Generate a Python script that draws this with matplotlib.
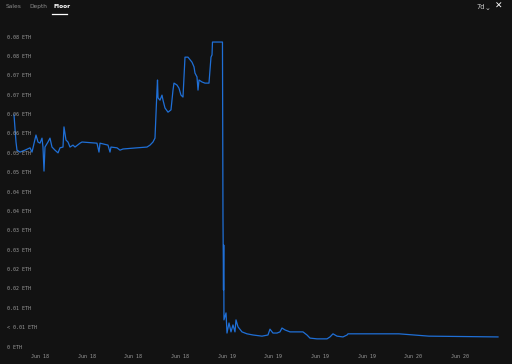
import matplotlib
matplotlib.use("Agg")
import matplotlib.pyplot as plt
import matplotlib.transforms as mtransforms

# floor price, x in tick units (0 = first "Jun 18" label), y in ETH
time = [-0.557, -0.514, -0.493, -0.429, -0.321, -0.214, -0.171, -0.086, -0.043, 0.0,
        0.043, 0.064, 0.086, 0.107, 0.171, 0.214, 0.257, 0.321, 0.386, 0.429,
        0.493, 0.514, 0.557, 0.600, 0.643, 0.707, 0.750, 0.857, 0.900, 1.221,
        1.264, 1.286, 1.457, 1.500, 1.521, 1.650, 1.714, 1.778, 2.078, 2.293,
        2.357, 2.421, 2.464, 2.507, 2.518, 2.529, 2.571, 2.614, 2.636, 2.678,
        2.743, 2.807, 2.850, 2.871, 2.936, 2.978, 3.021, 3.064, 3.107, 3.171,
        3.257, 3.300, 3.321, 3.364, 3.386, 3.407, 3.471, 3.535, 3.621, 3.664,
        3.686, 3.696, 3.910, 3.921, 3.932, 3.937, 3.942, 3.986, 4.007, 4.050,
        4.093, 4.135, 4.178, 4.200, 4.243, 4.328, 4.435, 4.564, 4.757, 4.885,
        4.928, 4.992, 5.078, 5.142, 5.185, 5.250, 5.357, 5.507, 5.635, 5.721,
        5.785, 5.935, 6.150, 6.214, 6.278, 6.364, 6.492, 6.579, 6.600, 7.692,
        8.335, 9.814]
floor = [0.0599, 0.0529, 0.0508, 0.0503, 0.0508, 0.0514, 0.0503, 0.0547, 0.0529, 0.0526,
         0.0539, 0.0516, 0.0454, 0.0516, 0.0529, 0.0539, 0.0516, 0.0508, 0.0501, 0.0514,
         0.0516, 0.0568, 0.0534, 0.0529, 0.0516, 0.0521, 0.0516, 0.0526, 0.0529, 0.0526,
         0.0503, 0.0526, 0.0521, 0.0503, 0.0516, 0.0514, 0.0508, 0.0511, 0.0514, 0.0516,
         0.0521, 0.0529, 0.0539, 0.0663, 0.0689, 0.0643, 0.0637, 0.0650, 0.0637, 0.0617,
         0.0606, 0.0612, 0.0663, 0.0681, 0.0676, 0.0668, 0.0650, 0.0645, 0.0748, 0.0748,
         0.0735, 0.0723, 0.0707, 0.0697, 0.0663, 0.0689, 0.0684, 0.0681, 0.0681, 0.0748,
         0.0754, 0.0787, 0.0787, 0.0333, 0.0147, 0.0263, 0.0070, 0.0088, 0.0036, 0.0062,
         0.0039, 0.0057, 0.0039, 0.0070, 0.0052, 0.0039, 0.0034, 0.0031, 0.0028, 0.0031,
         0.0046, 0.0036, 0.0036, 0.0039, 0.0049, 0.0044, 0.0039, 0.0039, 0.0039, 0.0031,
         0.0023, 0.0021, 0.0021, 0.0026, 0.0034, 0.0028, 0.0026, 0.0031, 0.0034, 0.0034,
         0.0028, 0.0026]

y_ticks = [0.0, 0.005, 0.01, 0.015, 0.02, 0.025, 0.03, 0.035, 0.04,
           0.045, 0.05, 0.055, 0.06, 0.065, 0.07, 0.075, 0.08]
y_labels = ["0 ETH", "< 0.01 ETH", "0.01 ETH", "0.02 ETH", "0.02 ETH", "0.03 ETH",
            "0.03 ETH", "0.04 ETH", "0.04 ETH", "0.05 ETH", "0.05 ETH", "0.06 ETH",
            "0.06 ETH", "0.07 ETH", "0.07 ETH", "0.08 ETH", "0.08 ETH"]
x_ticks = [0, 1, 2, 3, 4, 5, 6, 7, 8, 9]
x_labels = ["Jun 18", "Jun 18", "Jun 18", "Jun 18", "Jun 19",
            "Jun 19", "Jun 19", "Jun 19", "Jun 20", "Jun 20"]
tabs = ["Sales", "Depth", "Floor"]

bg = "#121212"
fig = plt.figure(figsize=(5.12, 3.64), dpi=100, facecolor=bg)
ax = fig.add_axes([0, 0, 1, 1])
ax.set_facecolor(bg)
ax.set_xlim(-0.857, 10.114)
ax.set_ylim(-0.004387, 0.08955)
ax.axis("off")

ax.plot(time, floor, color="#1f6fd6", lw=0.9, solid_joinstyle="round")

ytr = mtransforms.blended_transform_factory(ax.transAxes, ax.transData)
for v, lab in zip(y_ticks, y_labels):
    ax.text(7 / 512, v, lab, transform=ytr, color="#9a9a9a", fontsize=3.6,
            family="DejaVu Sans Mono", va="center", ha="left")

xtr = mtransforms.blended_transform_factory(ax.transData, ax.transAxes)
for t, lab in zip(x_ticks, x_labels):
    ax.text(t, 1 - 356 / 364, lab, transform=xtr, color="#9a9a9a", fontsize=3.6,
            family="DejaVu Sans Mono", va="center", ha="center")

# header tabs
tab_x = [6, 29, 53]
for x, name in zip(tab_x, tabs):
    active = name == "Floor"
    fig.text(x / 512, 1 - 6.5 / 364, name, color="white" if active else "#8c8c8c",
             fontsize=4.2, fontweight="bold" if active else "normal",
             va="center", ha="left")
fig.add_artist(plt.Line2D([52 / 512, 67 / 512], [1 - 13.5 / 364] * 2,
                          color="white", lw=0.9))
fig.text(476 / 512, 1 - 7 / 364, "7d", color="#d0d0d0", fontsize=4.8,
         va="center", ha="left")
fig.text(487 / 512, 1 - 7.5 / 364, "\u2304", color="#d0d0d0", fontsize=5,
         va="center", ha="center")
fig.text(499 / 512, 1 - 6 / 364, "\u2715", color="white", fontsize=6.5,
         va="center", ha="center")

fig.savefig("out.png", dpi=100, facecolor=bg)
